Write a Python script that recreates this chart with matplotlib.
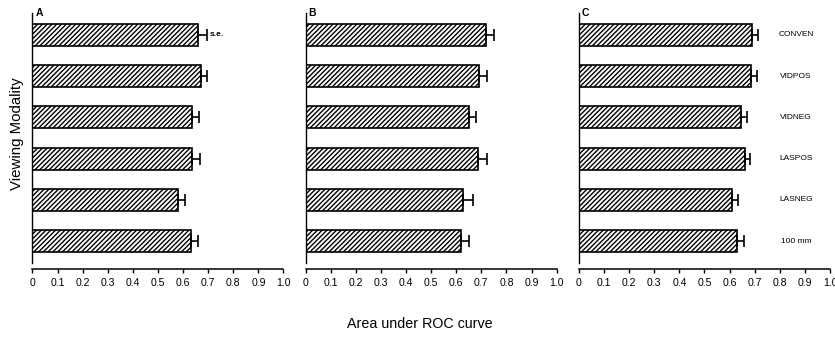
import matplotlib
matplotlib.use('Agg')
from matplotlib import pyplot as plt
import numpy as np

plt.rcParams['font.family'] = ['Liberation Sans', 'DejaVu Sans']
plt.rcParams['hatch.linewidth'] = 1.0

# viewing modalities, top to bottom
modalities = ['CONVEN', 'VIDPOS', 'VIDNEG', 'LASPOS', 'LASNEG', '100 mm']
panels = ['A', 'B', 'C']

# area under ROC curve and standard error for each panel
auc_a = [0.66, 0.671, 0.637, 0.637, 0.58, 0.631]
se_a = [0.035, 0.025, 0.026, 0.03, 0.027, 0.029]
auc_b = [0.718, 0.692, 0.649, 0.685, 0.629, 0.619]
se_b = [0.031, 0.032, 0.029, 0.036, 0.036, 0.033]
auc_c = [0.688, 0.685, 0.645, 0.661, 0.608, 0.629]
se_c = [0.024, 0.025, 0.026, 0.022, 0.024, 0.027]

ticks = [0, 0.1, 0.2, 0.3, 0.4, 0.5, 0.6, 0.7, 0.8, 0.9, 1.0]
tick_labels = ['0', '0.1', '0.2', '0.3', '0.4', '0.5', '0.6', '0.7', '0.8', '0.9', '1.0']

fig = plt.figure(figsize=(8.35, 3.37), dpi=100)
lefts = [0.0389, 0.366, 0.6934]
data = [(auc_a, se_a), (auc_b, se_b), (auc_c, se_c)]

y = np.arange(len(modalities))
for i, (vals, se) in enumerate(data):
    ax = fig.add_axes([lefts[i], 0.2196, 0.3006, 0.742])
    ax.barh(y, vals, height=0.53, color='white', edgecolor='black',
            linewidth=1.2, hatch='///////')
    ax.errorbar(vals, y, xerr=[np.zeros(len(vals)), se], fmt='none',
                ecolor='black', elinewidth=1.2, capsize=4, capthick=1.2)
    ax.set_xlim(0, 1.0)
    ax.set_ylim(len(modalities) - 0.47, -0.53)
    ax.set_yticks([])
    ax.set_xticks(ticks)
    ax.set_xticklabels(tick_labels, fontweight='bold')
    ax.tick_params(axis='x', length=3, width=1, pad=3.5, direction='out',
                   labelsize=7.6)
    ax.spines['top'].set_visible(False)
    ax.spines['right'].set_visible(False)
    ax.spines['bottom'].set_position(('outward', 4.5))
    ax.spines['left'].set_linewidth(1)
    ax.spines['bottom'].set_linewidth(1.1)
    ax.text(0.026, 1.0, panels[i], transform=ax.transAxes, fontsize=7.5,
            fontweight='bold', va='center', ha='center')
    if i == 0:
        ax.text(vals[0] + se[0] + 0.012, 0, 's.e.', fontsize=6,
                fontweight='bold', va='center', ha='left')
    if i == 2:
        for j, name in enumerate(modalities):
            ax.text(0.865, j, name, fontsize=6, va='center', ha='center')

fig.text(0.02, 0.602, 'Viewing Modality', rotation=90, fontsize=10.8,
         va='center', ha='center')
fig.text(0.503, 0.039, 'Area under ROC curve', fontsize=10.3,
         va='center', ha='center')

plt.savefig('out.png', dpi=100)
